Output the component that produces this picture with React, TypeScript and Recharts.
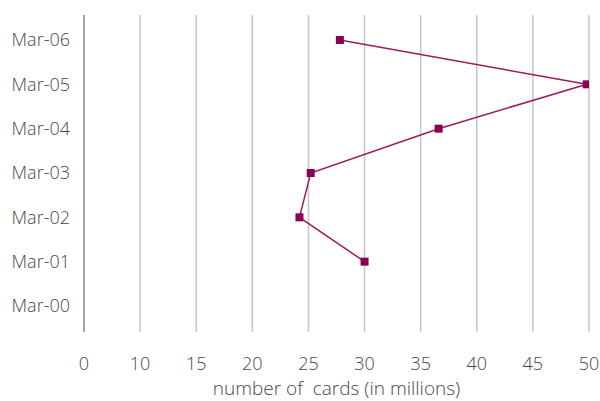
import React from "react";
import { LineChart, Line, XAxis, YAxis, CartesianGrid } from "recharts";

const months = ["Mar-06", "Mar-05", "Mar-04", "Mar-03", "Mar-02", "Mar-01", "Mar-00"];
const cards: (number | null)[] = [27.8, 49.8, 36.6, 25.2, 24.2, 30.0, null];
const xTickValues = [5, 10, 15, 20, 25, 30, 35, 40, 45, 50];
const xTickLabels = ["0", "10", "15", "20", "25", "30", "35", "40", "45", "50"];
const axisTitle = "number of \u00a0cards (in millions)";

const data = months.map((m, i) => ({ month: m, value: cards[i] }));

const FONT = "'Open Sans', 'Segoe UI', sans-serif";
const TEXT = "#474747";

const SquareDot = (props: any) => {
  const { cx, cy, value } = props;
  if (value == null || cx == null || cy == null) return null;
  return <rect x={cx - 4} y={cy - 4} width={8} height={8} fill="#8b0050" />;
};

export default function App() {
  return (
    <div style={{ position: "absolute", left: 0, top: 0, width: 600, height: 401, background: "#fff" }}>
      <LineChart
        width={600}
        height={401}
        data={data}
        layout="vertical"
        margin={{ top: 15, right: 11, bottom: 0, left: 0 }}
      >
        <CartesianGrid horizontal={false} vertical={true} stroke="#c6c6c6" strokeWidth={1.5} />
        <XAxis
          type="number"
          domain={[5, 50]}
          ticks={xTickValues}
          allowDataOverflow
          interval={0}
          height={69}
          axisLine={false}
          tickLine={false}
          tickSize={6}
          tickMargin={19}
          tick={{ fill: TEXT, fontSize: 18, fontFamily: FONT, fontWeight: 300 }}
          tickFormatter={(v: number, i: number) => xTickLabels[i] ?? String(v)}
          label={{
            value: axisTitle,
            position: "insideBottom",
            offset: 6,
            fill: TEXT,
            fontSize: 19,
            fontFamily: FONT,
            fontWeight: 300,
          }}
        />
        <YAxis
          type="category"
          dataKey="month"
          width={84}
          padding={{ top: 25, bottom: 26 }}
          axisLine={{ stroke: "#a6a6a6", strokeWidth: 2 }}
          tickLine={false}
          tickSize={6}
          tickMargin={8}
          interval={0}
          tick={{ fill: TEXT, fontSize: 18, fontFamily: FONT, fontWeight: 300 }}
        />
        <Line
          type="linear"
          dataKey="value"
          stroke="#9b1b5e"
          strokeWidth={1.5}
          dot={<SquareDot />}
          activeDot={false}
          connectNulls={false}
          isAnimationActive={false}
        />
      </LineChart>
    </div>
  );
}
